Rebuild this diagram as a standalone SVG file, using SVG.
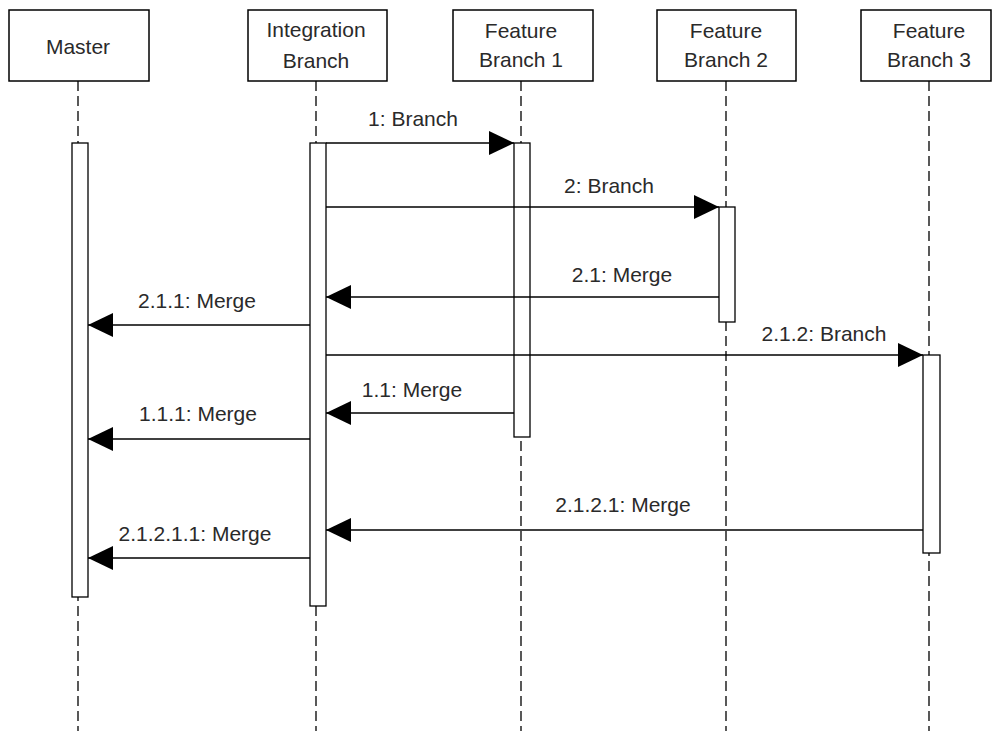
<svg xmlns="http://www.w3.org/2000/svg" width="993" height="731" viewBox="0 0 993 731">
<style>
.box{fill:#fff;stroke:#000;stroke-width:1.5}
.life{stroke:#000;stroke-width:1.3;stroke-dasharray:10,5;fill:none}
.bar{fill:#fff;stroke:#000;stroke-width:1.3}
.msg{stroke:#000;stroke-width:1.4;fill:none;marker-end:url(#ah)}
text{font-family:"Liberation Sans",Arial,sans-serif;font-size:21px;fill:#2a2a2a;text-anchor:middle}
</style>
<defs>
<marker id="ah" markerUnits="userSpaceOnUse" markerWidth="26" markerHeight="26" refX="25" refY="12" orient="auto">
<path d="M0,0 L25,12 L0,24 Z" fill="#000"/>
</marker>
</defs>
<rect width="993" height="731" fill="#fff"/>
<g id="master">
<line class="life" x1="78" y1="81" x2="78" y2="731"/>
<rect class="box" x="9" y="10" width="140" height="71"/>
<text x="78" y="54">Master</text>
<rect class="bar" x="72" y="143" width="16" height="454"/>
</g>
<g id="integration">
<line class="life" x1="316" y1="81" x2="316" y2="731"/>
<rect class="box" x="248" y="10" width="139" height="71"/>
<text x="316" y="37">Integration</text>
<text x="316" y="68">Branch</text>
<rect class="bar" x="310" y="143" width="16" height="463"/>
</g>
<g id="feature1">
<line class="life" x1="521" y1="81" x2="521" y2="731"/>
<rect class="box" x="453" y="10" width="140" height="71"/>
<text x="521" y="38">Feature</text>
<text x="521" y="67">Branch 1</text>
<rect class="bar" x="514" y="143" width="16" height="294"/>
</g>
<g id="feature2">
<line class="life" x1="726" y1="81" x2="726" y2="731"/>
<rect class="box" x="657" y="10" width="139" height="71"/>
<text x="726" y="38">Feature</text>
<text x="726" y="67">Branch 2</text>
<rect class="bar" x="719" y="207" width="16" height="115"/>
</g>
<g id="feature3">
<line class="life" x1="929" y1="81" x2="929" y2="731"/>
<rect class="box" x="861" y="10" width="130" height="71"/>
<text x="929" y="38">Feature</text>
<text x="929" y="67">Branch 3</text>
<rect class="bar" x="923" y="355" width="17" height="198"/>
</g>
<g id="connectors">
<line class="msg" x1="326" y1="143" x2="514" y2="143"/>
<text x="413" y="126">1: Branch</text>
<line class="msg" x1="326" y1="207" x2="719" y2="207"/>
<text x="609" y="193">2: Branch</text>
<line class="msg" x1="719" y1="297" x2="326" y2="297"/>
<text x="622" y="282">2.1: Merge</text>
<line class="msg" x1="310" y1="325" x2="88" y2="325"/>
<text x="197" y="308">2.1.1: Merge</text>
<line class="msg" x1="326" y1="355" x2="923" y2="355"/>
<text x="824" y="341">2.1.2: Branch</text>
<line class="msg" x1="514" y1="413" x2="326" y2="413"/>
<text x="412" y="397">1.1: Merge</text>
<line class="msg" x1="310" y1="439" x2="88" y2="439"/>
<text x="198" y="421">1.1.1: Merge</text>
<line class="msg" x1="923" y1="530" x2="326" y2="530"/>
<text x="623" y="512">2.1.2.1: Merge</text>
<line class="msg" x1="310" y1="558" x2="88" y2="558"/>
<text x="195" y="541">2.1.2.1.1: Merge</text>
</g>
</svg>
